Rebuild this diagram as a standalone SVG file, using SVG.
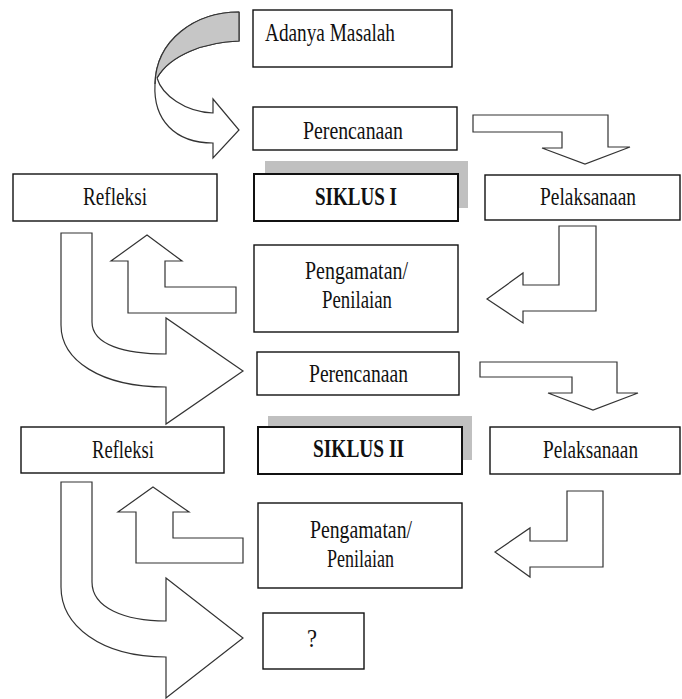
<svg xmlns="http://www.w3.org/2000/svg" width="682" height="699" viewBox="0 0 682 699">
<style>
.box{fill:#fff;stroke:#111;stroke-width:1.4}
.bold{stroke-width:2}
.sh{fill:#c0c0c0}
.t{font-family:"Liberation Serif","Times New Roman",serif;font-size:26px;fill:#111}
.b{font-weight:bold}
.arr{fill:#fff;stroke:#333;stroke-width:1.2;stroke-linejoin:miter}
.gray{fill:#c6c6c6;stroke:none}
.ln{fill:none;stroke:#333;stroke-width:1.2}
</style>
<rect width="682" height="699" fill="#fff"/>
<g id="connectors">
  <g id="curve-top">
    <path class="arr" d="M239,12 C195,12 156,40 155,84 C153,120 175,143 213,143 L213,158 L239,130 L213,99 L213,113 C185,112 162,95 157,78 C170,55 205,42 239,41 Z"/>
    <path class="gray" d="M239,12 C195,12 156,40 155,82 L157,78 C170,55 205,42 239,41 Z"/>
    <path class="ln" d="M239,12 C195,12 156,40 155,84 M157,78 C170,55 205,42 239,41 L239,12"/>
  </g>
  <polygon id="a-per1-pel1" class="arr" points="473,115 608,115 608,147 630,147 585,164 542,148 562,148 562,132 473,132"/>
  <polygon id="a-pel1-peng1" class="arr" points="559,226 596,226 596,311 523,311 523,323 487,299 523,273 523,285 559,285"/>
  <polygon id="a-peng1-ref1" class="arr" points="147,235 182,261 165,261 165,287 236,287 236,313 128,313 128,261 111,261"/>
  <path id="a-ref1-per2" class="arr" d="M61,233 L92,233 L92,322 C92,345 125,354 166,354 L166,318 L243,371 L166,424 L166,387 C100,387 61,360 61,325 Z"/>
  <polygon id="a-per2-pel2" class="arr" points="480,362 617,362 617,393 638,393 593,410 548,393 572,393 572,377 480,377"/>
  <polygon id="a-pel2-peng2" class="arr" points="567,491 603,491 603,567 530,567 530,577 495,552 530,528 530,541 567,541"/>
  <polygon id="a-peng2-ref2" class="arr" points="153,487 189,512 173,512 173,538 243,538 243,563 136,563 136,512 118,512"/>
  <path id="a-ref2-q" class="arr" d="M61,482 L92,482 L92,582 C92,608 125,621 166,621 L166,578 L243,638 L166,698 L166,657 C100,657 61,625 61,587 Z"/>
</g>
<g id="adanya-masalah">
  <rect class="box" x="253" y="10" width="199" height="57"/>
  <text class="t" x="265" y="41" textLength="130" lengthAdjust="spacingAndGlyphs">Adanya Masalah</text>
</g>
<g id="perencanaan-1">
  <rect class="box" x="253" y="107" width="204" height="43"/>
  <text class="t" x="303" y="139" textLength="100" lengthAdjust="spacingAndGlyphs">Perencanaan</text>
</g>
<g id="refleksi-1">
  <rect class="box" x="13" y="174" width="204" height="47"/>
  <text class="t" x="83" y="205" textLength="64" lengthAdjust="spacingAndGlyphs">Refleksi</text>
</g>
<g id="siklus-1">
  <rect class="sh" x="265" y="161" width="203" height="47"/>
  <rect class="box bold" x="254" y="174" width="204" height="47"/>
  <text class="t b" x="315" y="205" textLength="82" lengthAdjust="spacingAndGlyphs">SIKLUS I</text>
</g>
<g id="pelaksanaan-1">
  <rect class="box" x="485" y="175" width="195" height="45"/>
  <text class="t" x="540" y="205" textLength="96" lengthAdjust="spacingAndGlyphs">Pelaksanaan</text>
</g>
<g id="pengamatan-1">
  <rect class="box" x="254" y="245" width="204" height="87"/>
  <text class="t" x="305" y="279" textLength="103" lengthAdjust="spacingAndGlyphs">Pengamatan/</text>
  <text class="t" x="322" y="308" textLength="70" lengthAdjust="spacingAndGlyphs">Penilaian</text>
</g>
<g id="perencanaan-2">
  <rect class="box" x="257" y="352" width="202" height="43"/>
  <text class="t" x="309" y="382" textLength="99" lengthAdjust="spacingAndGlyphs">Perencanaan</text>
</g>
<g id="refleksi-2">
  <rect class="box" x="21" y="427" width="203" height="46"/>
  <text class="t" x="92" y="458" textLength="62" lengthAdjust="spacingAndGlyphs">Refleksi</text>
</g>
<g id="siklus-2">
  <rect class="sh" x="268" y="416" width="204" height="44"/>
  <rect class="box bold" x="258" y="427" width="204" height="47"/>
  <text class="t b" x="313" y="457" textLength="91" lengthAdjust="spacingAndGlyphs">SIKLUS II</text>
</g>
<g id="pelaksanaan-2">
  <rect class="box" x="490" y="427" width="190" height="47"/>
  <text class="t" x="543" y="458" textLength="95" lengthAdjust="spacingAndGlyphs">Pelaksanaan</text>
</g>
<g id="pengamatan-2">
  <rect class="box" x="258" y="503" width="204" height="85"/>
  <text class="t" x="310" y="538" textLength="102" lengthAdjust="spacingAndGlyphs">Pengamatan/</text>
  <text class="t" x="327" y="567" textLength="67" lengthAdjust="spacingAndGlyphs">Penilaian</text>
</g>
<g id="hasil">
  <rect class="box" x="263" y="613" width="101" height="56"/>
  <text class="t" x="307" y="647" textLength="10" lengthAdjust="spacingAndGlyphs">?</text>
</g>
</svg>
